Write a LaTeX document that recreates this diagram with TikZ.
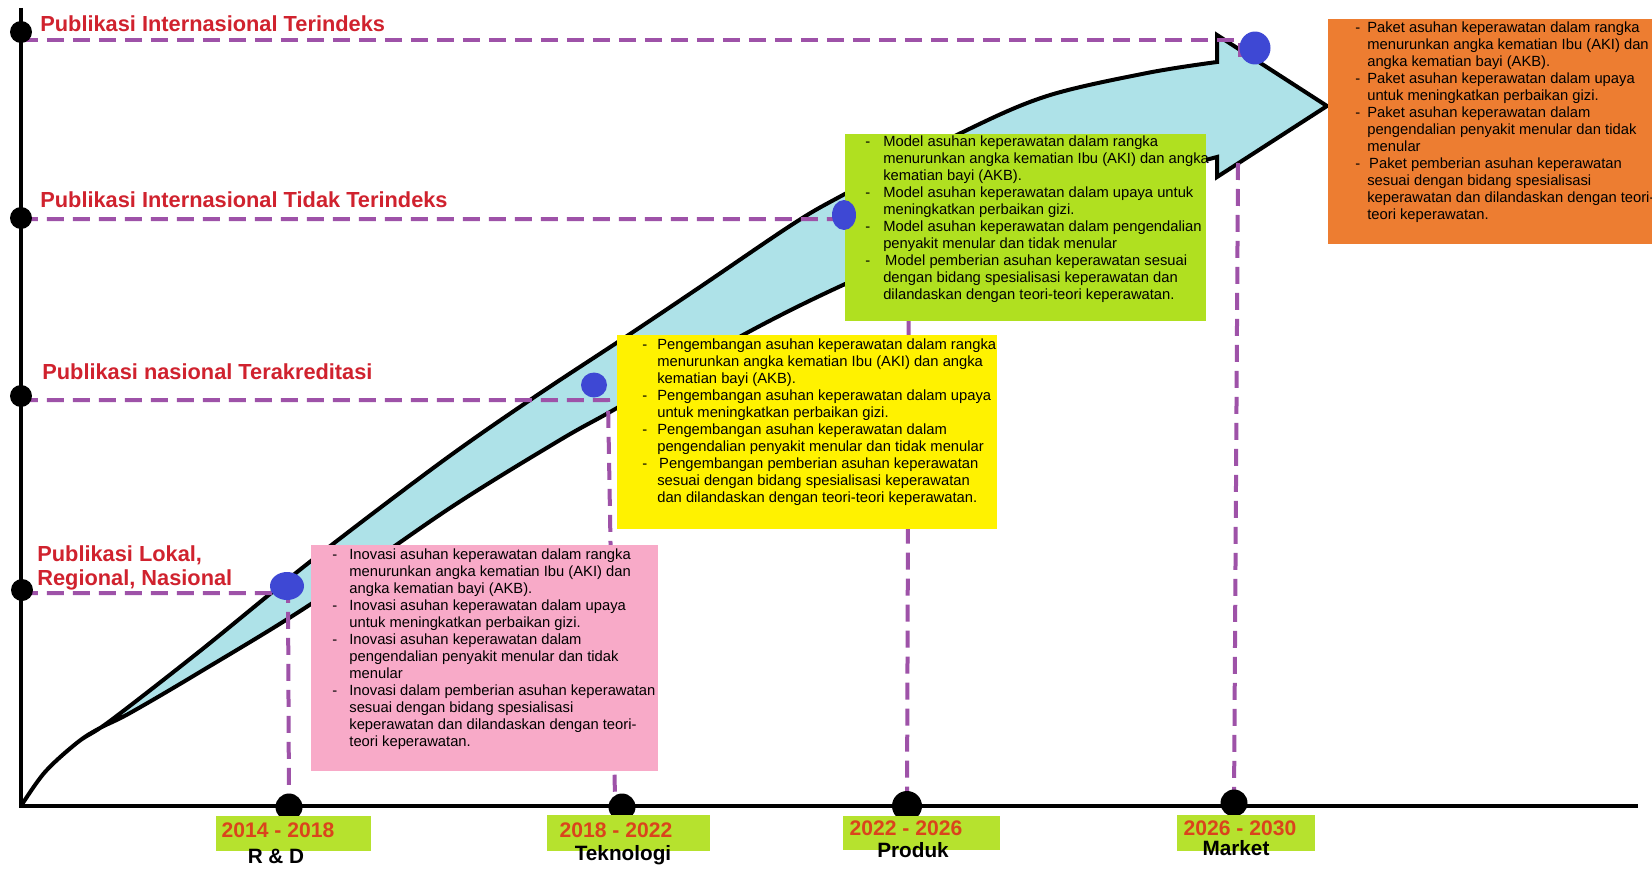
\documentclass[tikz,border=0pt]{standalone}
\usepackage{fontspec}
\setmainfont{Liberation Sans}
\usetikzlibrary{shapes.geometric}
\definecolor{labred}{RGB}{208,34,46}
\definecolor{yearred}{RGB}{218,68,28}
\definecolor{lblgreen}{RGB}{182,226,46}
\definecolor{boxgreen}{RGB}{176,224,32}
\definecolor{boxyellow}{RGB}{255,242,0}
\definecolor{boxpink}{RGB}{248,170,200}
\definecolor{boxorange}{RGB}{237,125,49}
\definecolor{bandcyan}{RGB}{174,226,232}
\definecolor{dotblue}{RGB}{62,72,212}
\definecolor{dashpurple}{RGB}{158,82,168}
\newcommand{\boxfont}{\fontsize{8.4}{9.67}\selectfont}
\begin{document}
\begin{tikzpicture}[x=0.02cm,y=-0.02cm,
  pdash/.style={draw=dashpurple, line width=0.08cm, dash pattern=on 0.34cm off 0.18cm},
  axisline/.style={draw=black, line width=0.07cm},
  axisdot/.style={circle, fill=black, inner sep=0pt, minimum size=0.44cm},
  tickdot/.style={circle, fill=black, inner sep=0pt, minimum size=0.54cm},
  bdot/.style={ellipse, fill=dotblue, inner sep=0pt},
  bgbox/.style={rectangle, inner sep=0pt, anchor=north west},
  boxtext/.style={inner sep=0pt, anchor=north west, font=\boxfont, align=left},
  pubtitle/.style={inner sep=0pt, anchor=west, text=labred, font=\fontsize{12.4}{13.66}\selectfont\bfseries, align=left},
  yeartext/.style={inner sep=0pt, text=yearred, font=\fontsize{12}{14}\selectfont\bfseries},
  stagetext/.style={inner sep=0pt, text=black, font=\fontsize{11.8}{14}\selectfont\bfseries},
  yearbox/.style={rectangle, fill=lblgreen, inner sep=0pt, anchor=north west},
]
\useasboundingbox[fill=white] (0,0) rectangle (1652,875);

% axes
\coordinate (O) at (21,806);
\coordinate (Ytop) at (21,8);
\coordinate (Xend) at (1638,806);
\draw[axisline] (Ytop) -- (O) -- (Xend);

% curved arrow band
\filldraw[fill=bandcyan, draw=black, line width=0.08cm]
  plot[smooth, tension=0.55] coordinates {(21,806) (45,772) (78,742) (110,721) (200,651) (311,561) (440,463) (533,398) (627,336) (700,287) (793,224) (843,195) (963,132) (1047,96) (1147,73) (1217,62)}
  -- (1217,35) -- (1327,106) -- (1217,177) -- (1217,157)
  -- plot[smooth, tension=0.55] coordinates {(1217,157) (1080,195) (950,240) (843,285) (743,335) (617,408) (560,440) (450,508) (311,604) (200,672) (130,713) (100,728) (78,742) (45,772) (21,806)}
  -- cycle;

% key coordinates
\coordinate (A1) at (21,32);
\coordinate (A2) at (21,218);
\coordinate (A3) at (21,396);
\coordinate (A4) at (22,590);
\coordinate (T1) at (289,807);
\coordinate (T2) at (622,807);
\coordinate (T3) at (907,806);
\coordinate (T4) at (1234,803);

% dashed guide lines
\coordinate (H1s) at (21,40);
\coordinate (H1e) at (1240,40);
\coordinate (H1d) at (1240,57);
\coordinate (V1s) at (1238,163);
\draw[pdash] (H1s) -- (H1e) -- (H1d);
\draw[pdash] (V1s) -- (T4);
\coordinate (H2s) at (21,219);
\coordinate (C2) at (909,219);
\draw[pdash] (H2s) -- (C2) -- (T3);
\coordinate (H3s) at (21,400);
\coordinate (C3) at (608,400);
\coordinate (E3) at (615,800);
\draw[pdash] (H3s) -- (C3) -- (E3);
\coordinate (H4s) at (21,593);
\coordinate (C4) at (288,593);
\draw[pdash] (H4s) -- (C4) -- (T1);

% content boxes
\node[bgbox, fill=boxpink, minimum width=6.94cm, minimum height=4.52cm] (pinkbg) at (311,545) {};
\node[bgbox, fill=boxyellow, minimum width=7.6cm, minimum height=3.88cm] (yellowbg) at (617,335) {};
\node[bgbox, fill=boxgreen, minimum width=7.22cm, minimum height=3.74cm] (greenbg) at (845,134) {};
\node[bgbox, fill=boxorange, minimum width=6.48cm, minimum height=4.5cm] (orangebg) at (1328,19) {};

\node[boxtext] (pinktxt) at (332,547.6) {\begin{tabular}{@{}p{9.7pt}@{}l@{}}
-&Inovasi asuhan keperawatan dalam rangka\\
&menurunkan angka kematian Ibu (AKI) dan\\
&angka kematian bayi (AKB).\\
-&Inovasi asuhan keperawatan dalam upaya\\
&untuk meningkatkan perbaikan gizi.\\
-&Inovasi asuhan keperawatan dalam\\
&pengendalian penyakit menular dan tidak\\
&menular\\
-&Inovasi dalam pemberian asuhan keperawatan\\
&sesuai dengan bidang spesialisasi\\
&keperawatan dan dilandaskan dengan teori-\\
&teori keperawatan.
\end{tabular}};

\node[boxtext] (yellowtxt) at (642,337.6) {\begin{tabular}{@{}p{8.5pt}@{}l@{}}
-&Pengembangan asuhan keperawatan dalam rangka\\
&menurunkan angka kematian Ibu (AKI) dan angka\\
&kematian bayi (AKB).\\
-&Pengembangan asuhan keperawatan dalam upaya\\
&untuk meningkatkan perbaikan gizi.\\
-&Pengembangan asuhan keperawatan dalam\\
&pengendalian penyakit menular dan tidak menular\\
-&\hspace{1.1pt}Pengembangan pemberian asuhan keperawatan\\
&sesuai dengan bidang spesialisasi keperawatan\\
&dan dilandaskan dengan teori-teori keperawatan.
\end{tabular}};

\node[boxtext] (greentxt) at (865,134.6) {\begin{tabular}{@{}p{10.2pt}@{}l@{}}
-&Model asuhan keperawatan dalam rangka\\
&menurunkan angka kematian Ibu (AKI) dan angka\\
&kematian bayi (AKB).\\
-&Model asuhan keperawatan dalam upaya untuk\\
&meningkatkan perbaikan gizi.\\
-&Model asuhan keperawatan dalam pengendalian\\
&penyakit menular dan tidak menular\\
-&\hspace{1.1pt}Model pemberian asuhan keperawatan sesuai\\
&dengan bidang spesialisasi keperawatan dan\\
&dilandaskan dengan teori-teori keperawatan.
\end{tabular}};

\node[boxtext] (orangetxt) at (1355,20.6) {\begin{tabular}{@{}p{6.8pt}@{}l@{}}
-&Paket asuhan keperawatan dalam rangka\\
&menurunkan angka kematian Ibu (AKI) dan\\
&angka kematian bayi (AKB).\\
-&Paket asuhan keperawatan dalam upaya\\
&untuk meningkatkan perbaikan gizi.\\
-&Paket asuhan keperawatan dalam\\
&pengendalian penyakit menular dan tidak\\
&menular\\
-&\hspace{1.1pt}Paket pemberian asuhan keperawatan\\
&sesuai dengan bidang spesialisasi\\
&keperawatan dan dilandaskan dengan teori-\\
&teori keperawatan.
\end{tabular}};

% axis dots
\node[axisdot] (a1) at (A1) {};
\node[axisdot] (a2) at (A2) {};
\node[axisdot] (a3) at (A3) {};
\node[axisdot] (a4) at (A4) {};
\node[tickdot] (t1) at (T1) {};
\node[tickdot] (t2) at (T2) {};
\node[tickdot, minimum size=0.6cm] (t3) at (T3) {};
\node[tickdot] (t4) at (T4) {};

% blue milestone dots
\node[bdot, minimum width=0.68cm, minimum height=0.56cm] (b1) at (287,586) {};
\node[bdot, minimum width=0.52cm, minimum height=0.5cm] (b2) at (594,385) {};
\node[bdot, minimum width=0.48cm, minimum height=0.6cm] (b3) at (844,215) {};
\node[bdot, minimum width=0.62cm, minimum height=0.66cm] (b4) at (1255,48) {};

% publication labels
\node[pubtitle] (p1) at (40,24) {Publikasi Internasional Terindeks};
\node[pubtitle] (p2) at (40,200) {Publikasi Internasional Tidak Terindeks};
\node[pubtitle] (p3) at (42,372) {Publikasi nasional Terakreditasi};
\node[pubtitle] (p4) at (37,568) {Publikasi Lokal,\\Regional, Nasional};

% period labels
\node[yearbox, minimum width=3.1cm, minimum height=0.7cm] (yb1) at (216,816) {};
\node[yearbox, minimum width=3.26cm, minimum height=0.72cm] (yb2) at (547,815) {};
\node[yearbox, minimum width=3.14cm, minimum height=0.68cm] (yb3) at (843,816) {};
\node[yearbox, minimum width=2.76cm, minimum height=0.72cm] (yb4) at (1177,815) {};
\node[yeartext] (y1) at (278,830) {2014 - 2018};
\node[yeartext] (y2) at (616,830) {2018 - 2022};
\node[yeartext] (y3) at (906,828) {2022 - 2026};
\node[yeartext] (y4) at (1240,828) {2026 - 2030};
\node[stagetext] (s1) at (276,856) {R \& D};
\node[stagetext] (s2) at (623,855) {Teknologi};
\node[stagetext] (s3) at (913,850) {Produk};
\node[stagetext] (s4) at (1236,848) {Market};
\end{tikzpicture}
\end{document}
